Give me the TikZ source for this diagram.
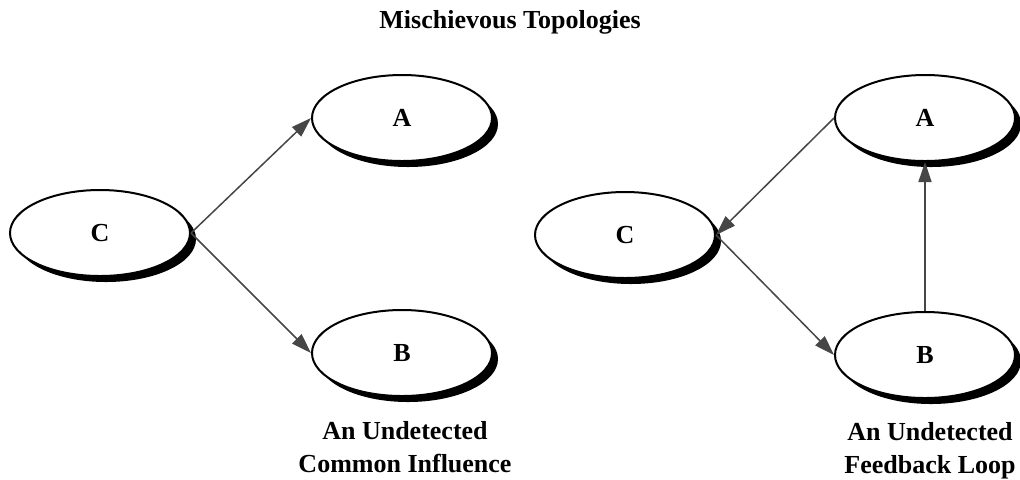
\documentclass[tikz,border=0pt]{standalone}
\usepackage{fontspec}
\setmainfont{Liberation Serif}
\usetikzlibrary{shapes.geometric,shadows,arrows.meta}
\definecolor{topo-line}{RGB}{70,70,70}

\tikzset{
  topo/.style={ellipse, draw, line width=1pt, fill=white,
    minimum width=90pt, minimum height=43pt, inner sep=0pt,
    font=\bfseries\fontsize{13}{15}\selectfont,
    drop shadow={shadow xshift=3pt, shadow yshift=-3pt, fill=black, opacity=1}},
  link/.style={topo-line, line width=0.75pt, -{Triangle[length=10pt,width=6.5pt]}},
  caption/.style={font=\bfseries\fontsize{13}{16.5}\selectfont, align=center}
}

\begin{document}
\begin{tikzpicture}[x=0.5pt, y=-0.5pt]
    \useasboundingbox (0,0) rectangle (1020,479);
    \node[caption] (title) at (510,22) {Mischievous Topologies};

    % common influence
    \node[topo] (lc) at (100,233) {C};
    \node[topo] (la) at (402,118) {A};
    \node[topo] (lb) at (402,353) {B};
    \draw[link] (lc.east) -- (la.west);
    \draw[link] (lc.east) -- (lb.west);
    \node[caption] (lcap) at (405,447) {An Undetected\\Common Influence};

    % feedback loop
    \node[topo] (rc) at (625,235) {C};
    \node[topo] (ra) at (925,118) {A};
    \node[topo] (rb) at (925,355) {B};
    \draw[link] (ra.west) -- (rc.east);
    \draw[link] (rc.east) -- (rb.west);
    \draw[link] (rb.north) -- (ra.south);
    \node[caption] (rcap) at (930,451) {An Undetected\\Feedback Loop};
\end{tikzpicture}
\end{document}
